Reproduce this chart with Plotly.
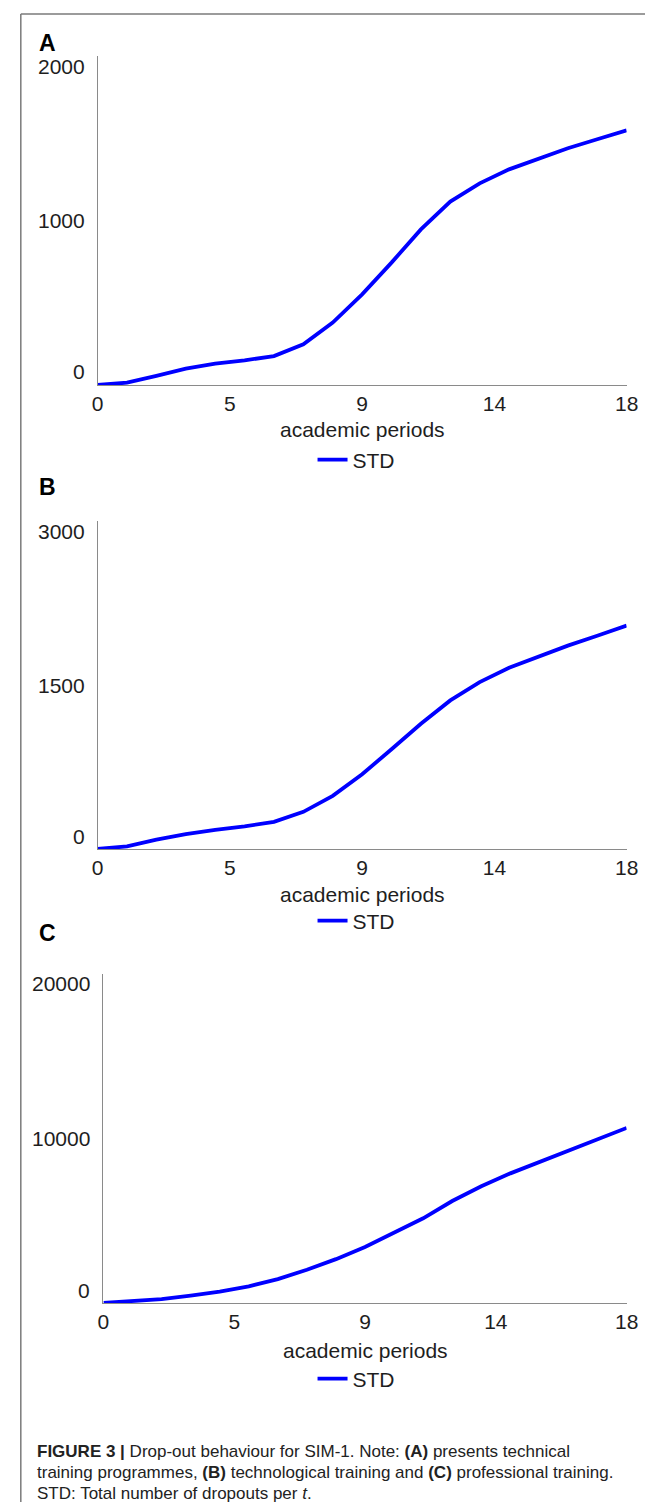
import plotly.graph_objects as go

# ---------------- data ----------------
periods = list(range(19))
std_technical = [0, 14, 55, 99, 130, 150, 176, 247, 379, 551, 744, 946, 1115,
                 1226, 1311, 1378, 1439, 1494, 1548]
std_technological = [0, 24, 85, 137, 176, 207, 249, 340, 486, 684, 912, 1146,
                     1359, 1526, 1657, 1763, 1860, 1951, 2043]
std_professional = [0, 120, 240, 444, 687, 1010, 1455, 2020, 2667, 3400, 4250,
                    5150, 6200, 7100, 7880, 8570, 9260, 9950, 10640]

x_tick_vals = [0, 4.5, 9, 13.5, 18]
x_tick_text = ["0", "5", "9", "14", "18"]
y_ticks_a = [0, 1000, 2000]
y_ticks_b = [0, 1500, 3000]
y_ticks_c = [0, 10000, 20000]
panel_letters = ["A", "B", "C"]
series_name = "STD"
x_title = "academic periods"

caption_lines = [
    "<b>FIGURE 3 |</b> Drop-out behaviour for SIM-1. Note: <b>(A)</b> presents technical",
    "training programmes, <b>(B)</b> technological training and <b>(C)</b> professional training.",
    "STD: Total number of dropouts per <i>t</i>.",
]

# ---------------- layout helpers ----------------
W, H = 653, 1502
FONT = "Liberation Sans, Arial, Helvetica, sans-serif"
TXT = "#1e1e1e"
AXC = "#8a8a8a"
BLUE = "#0000ff"


def px_x(p):
    return p / W


def px_y(p):
    return 1 - p / H


# panel geometry in pixels: (x0, x1, ytop, ybottom, legend_y, xlabel_y, letter_y,
#                            label shift bottom, label shift top)
panels = [
    (86, 630, 48, 377, 452, 422, 35, 14, -11),
    (86, 630, 513, 841, 913, 887, 479, 13, -10),
    (92, 630, 966, 1295, 1371, 1342, 925, 13, -9),
]
series = [std_technical, std_technological, std_professional]
yticks = [y_ticks_a, y_ticks_b, y_ticks_c]

fig = go.Figure()
annotations = []
layout = {}

for i, (geom, ys, yt, letter) in enumerate(zip(panels, series, yticks, panel_letters)):
    x0, x1, yt_px, yb_px, leg_y, xl_y, let_y, sh_b, sh_t = geom
    sfx = "" if i == 0 else str(i + 1)
    xa, ya = "x" + sfx, "y" + sfx
    leg = "legend" + sfx
    fig.add_trace(go.Scatter(
        x=periods, y=ys, mode="lines", name=series_name,
        line=dict(color=BLUE, width=3.8),
        xaxis=xa, yaxis=ya, legend=leg, showlegend=True,
    ))
    layout["xaxis" + sfx] = dict(
        domain=[px_x(x0), px_x(x1)], anchor=ya, range=[0, 18],
        tickmode="array", tickvals=x_tick_vals, ticktext=x_tick_text,
        showline=True, linecolor=AXC, linewidth=1.3, ticks="",
        showgrid=False, zeroline=False,
        tickfont=dict(family=FONT, size=21, color=TXT),
    )
    layout["yaxis" + sfx] = dict(
        domain=[px_y(yb_px), px_y(yt_px)], anchor=xa, range=[0, yt[-1]],
        showline=True, linecolor=AXC, linewidth=1.3, ticks="",
        showgrid=False, zeroline=False, showticklabels=False,
    )
    layout[leg] = dict(
        x=px_x(307), xanchor="left", y=px_y(leg_y), yanchor="middle",
        font=dict(family=FONT, size=21, color=TXT), bgcolor="rgba(0,0,0,0)",
        itemwidth=30, borderwidth=0,
    )
    # y tick labels (placed inside the value span, as in the original)
    shifts = [sh_b, 0, sh_t]
    for v, s in zip(yt, shifts):
        annotations.append(dict(
            x=0, xref=xa + " domain", xanchor="right", xshift=-11,
            y=v, yref=ya, yanchor="middle", yshift=s,
            text=str(v), showarrow=False,
            font=dict(family=FONT, size=21, color=TXT),
        ))
    # axis title
    annotations.append(dict(
        x=0.5, xref=xa + " domain", xanchor="center",
        y=px_y(xl_y), yref="paper", yanchor="middle",
        text=x_title, showarrow=False,
        font=dict(family=FONT, size=21, color=TXT),
    ))
    # panel letter
    annotations.append(dict(
        x=px_x(24), xref="paper", xanchor="left",
        y=px_y(let_y), yref="paper", yanchor="middle",
        text="<b>" + letter + "</b>", showarrow=False,
        font=dict(family=FONT, size=23, color="#000000"),
    ))

caption_y = [1443, 1464, 1485]
for line, cy in zip(caption_lines, caption_y):
    annotations.append(dict(
        x=px_x(22), xref="paper", xanchor="left",
        y=px_y(cy), yref="paper", yanchor="middle",
        text=line, showarrow=False, align="left",
        font=dict(family=FONT, size=17, color="#222222"),
    ))

shapes = [
    dict(type="line", xref="paper", yref="paper",
         x0=px_x(7), x1=1, y0=px_y(6), y1=px_y(6),
         line=dict(color="#7a7a7a", width=1.5)),
    dict(type="line", xref="paper", yref="paper",
         x0=px_x(7), x1=px_x(7), y0=px_y(6), y1=0,
         line=dict(color="#7a7a7a", width=1.5)),
]

fig.update_layout(
    width=W, height=H, autosize=False,
    margin=dict(l=0, r=0, t=0, b=0),
    paper_bgcolor="white", plot_bgcolor="white",
    annotations=annotations, shapes=shapes,
    font=dict(family=FONT, color=TXT),
    **layout,
)

fig.write_html("out.html")
